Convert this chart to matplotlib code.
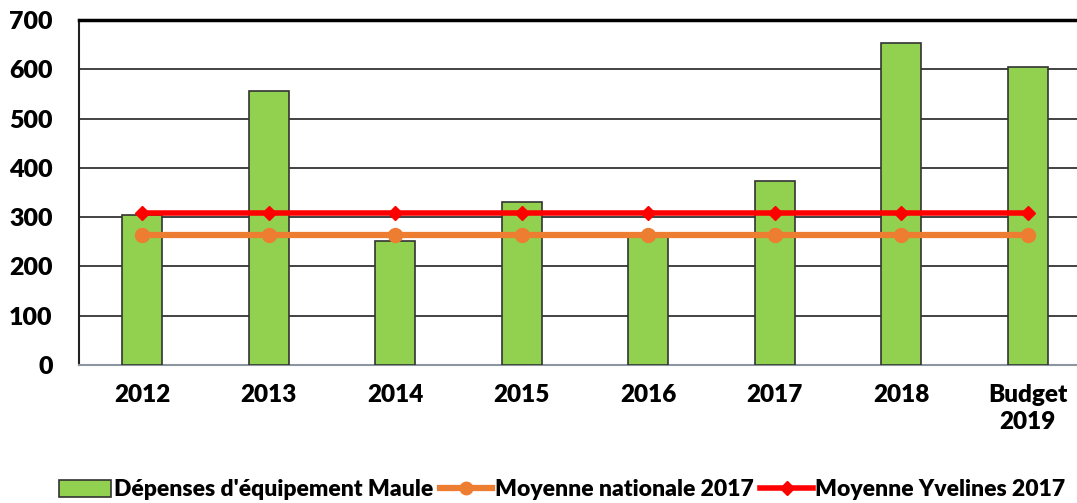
import matplotlib
matplotlib.use("Agg")
import matplotlib.pyplot as plt
from matplotlib.patches import Patch
from matplotlib.lines import Line2D

categories = ["2012", "2013", "2014", "2015", "2016", "2017", "2018", "Budget\n2019"]
depenses = [304, 556, 251, 331, 260, 373, 653, 604]
moy_nat = [264] * 8
moy_yv = [308] * 8
yticks = [0, 100, 200, 300, 400, 500, 600, 700]

plt.rcParams['font.family'] = ['Lato', 'DejaVu Sans']
W = 'heavy'

fig = plt.figure(figsize=(10.77, 5.03), dpi=100)
ax = fig.add_axes([79/1077, (503-365)/503, 1012/1077, 345/503])

x = list(range(len(categories)))
ax.bar(x, depenses, width=0.315, color="#92D050", edgecolor="#333333", linewidth=1.2, zorder=3)
ax.plot(x, moy_nat, color="#ED7D31", linewidth=4.5, marker="o", markersize=10, zorder=4)
ax.plot(x, moy_yv, color="#FF0000", linewidth=4, marker="D", markersize=7, zorder=5)

ax.set_xlim(-0.5, 7.5)
ax.set_ylim(0, 700)
ax.set_yticks(yticks)
ax.set_yticklabels([str(v) for v in yticks], fontsize=18, fontweight=W)
ax.set_xticks(x)
ax.set_xticklabels(categories, fontsize=17.5, fontweight=W, linespacing=1.25)
ax.tick_params(axis='both', length=0)
ax.tick_params(axis='x', pad=14)
ax.tick_params(axis='y', pad=19)
ax.grid(axis='y', color='#222222', linewidth=1.2, zorder=0)
ax.set_axisbelow(True)
ax.spines['top'].set_linewidth(2.5)
ax.spines['top'].set_color('black')
ax.spines['left'].set_color('#222222')
ax.spines['left'].set_linewidth(1.5)
ax.spines['bottom'].set_color('#8C96A0')
ax.spines['bottom'].set_linewidth(1.5)
ax.spines['right'].set_visible(False)

handles = [
    Patch(facecolor="#92D050", edgecolor="#333333", linewidth=1.2),
    Line2D([0], [0], color="#ED7D31", linewidth=4.5, marker="o", markersize=9),
    Line2D([0], [0], color="#FF0000", linewidth=4, marker="D", markersize=7),
]
labels = ["Dépenses d'équipement Maule", "Moyenne nationale 2017", "Moyenne Yvelines 2017"]
fig.legend(handles, labels, loc='center', bbox_to_anchor=(562/1077, 1-490/503), ncol=3,
           frameon=False, prop={'size': 16.5, 'weight': W}, handlelength=2.3,
           handletextpad=0.1, columnspacing=0.3, borderaxespad=0)

fig.savefig("out.png", dpi=100)
